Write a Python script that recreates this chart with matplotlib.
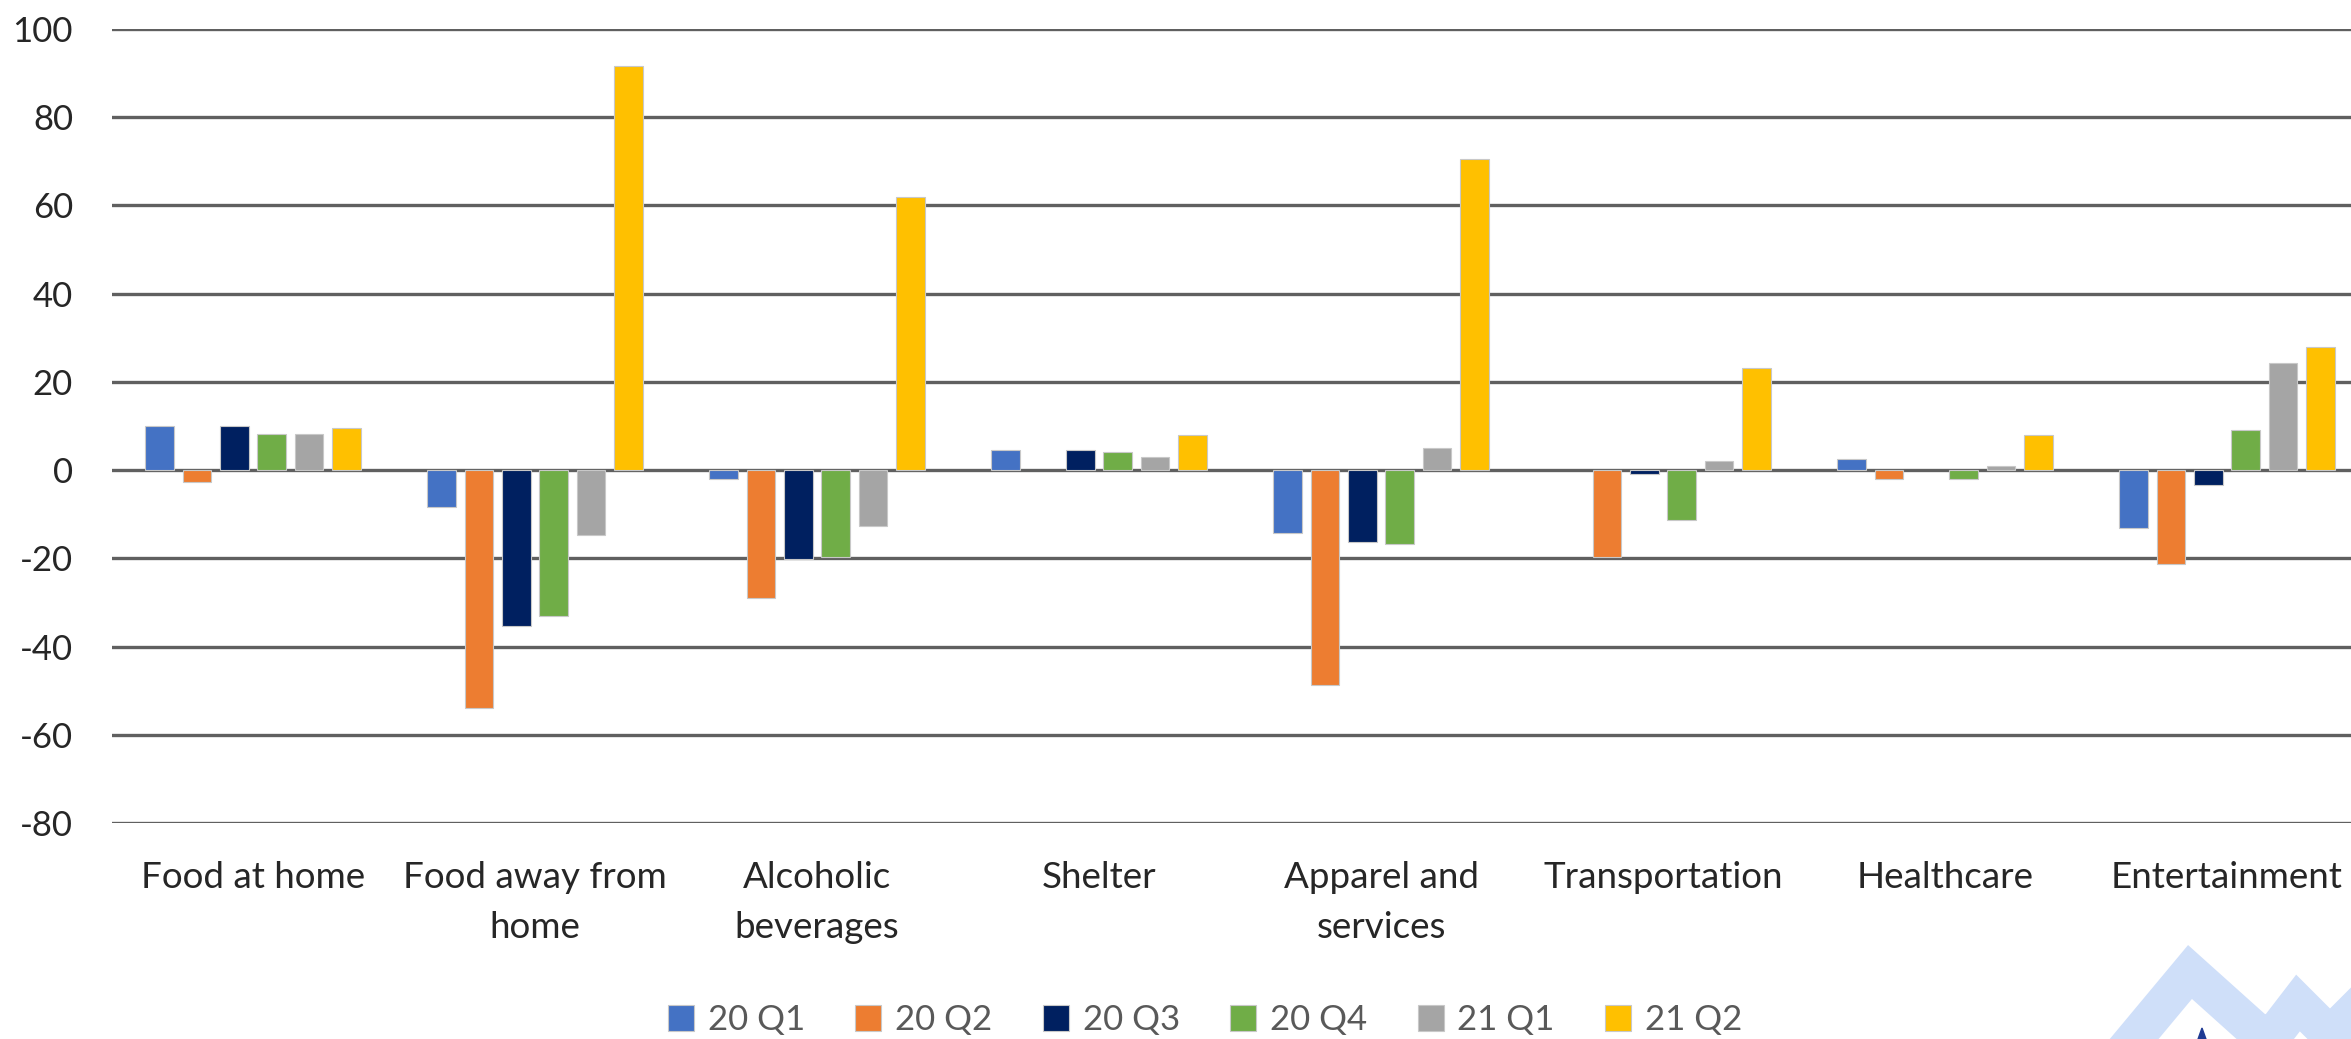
import numpy as np
import matplotlib
matplotlib.use("Agg")
import matplotlib.pyplot as plt
from matplotlib.lines import Line2D
from matplotlib.patches import Polygon

plt.rcParams['font.family'] = ['Lato', 'DejaVu Sans']
plt.rcParams['axes.unicode_minus'] = False

categories = ['Food at home', 'Food away from\nhome', 'Alcoholic\nbeverages', 'Shelter',
              'Apparel and\nservices', 'Transportation', 'Healthcare', 'Entertainment']
series_names = ['20 Q1', '20 Q2', '20 Q3', '20 Q4', '21 Q1', '21 Q2']
q1_20 = [10.0, -8.3, -2.0, 4.5, -14.3, 0.0, 2.5, -13.2]
q2_20 = [-2.8, -54.0, -29.0, 0.0, -48.7, -19.8, -2.0, -21.2]
q3_20 = [10.0, -35.3, -20.2, 4.5, -16.2, -0.9, 0.0, -3.4]
q4_20 = [8.1, -33.0, -19.8, 4.1, -16.7, -11.2, -2.0, 9.1]
q1_21 = [8.1, -14.8, -12.7, 3.0, 4.9, 2.0, 1.0, 24.3]
q2_21 = [9.5, 91.5, 62.0, 7.9, 70.5, 23.1, 7.9, 27.8]
colors = ['#4472C4', '#ED7D31', '#002060', '#70AD47', '#A5A5A5', '#FFC000']

W, H = 2351, 1039
fig = plt.figure(figsize=(W / 100, H / 100), dpi=100)
ax = fig.add_axes([112 / W, 1 - 823 / H, (2368 - 112) / W, (823 - 29) / H])

x = np.arange(len(categories))
pitch = 0.1323
width = 0.101
all_series = [q1_20, q2_20, q3_20, q4_20, q1_21, q2_21]
handles = []
for i, vals in enumerate(all_series):
    offs = (i - 2.5) * pitch
    b = ax.bar(x + offs, vals, width, color=colors[i], edgecolor='#c8c8c8',
               linewidth=0.8, zorder=3, label=series_names[i])
    # empty values show no bar at all
    for p in b.patches:
        if p.get_height() == 0:
            p.set_visible(False)
    handles.append(b)

ax.set_xlim(-0.5, len(categories) - 0.5)
ax.set_ylim(-80, 100)
ax.set_yticks(np.arange(-80, 101, 20))
ax.set_xticks(x)
ax.set_xticklabels(categories)
ax.yaxis.grid(True, color='#606060', linewidth=2.4, zorder=0)
ax.set_axisbelow(True)
for s in ax.spines.values():
    s.set_visible(False)
ax.tick_params(axis='y', length=0, pad=28, labelsize=25, labelcolor='#262626')
ax.tick_params(axis='x', length=0, pad=27, labelsize=26.5, labelcolor='#262626')
for t in ax.get_xticklabels():
    t.set_linespacing(1.65)

leg = fig.legend(handles=handles, loc='center', bbox_to_anchor=(1205 / W, 1 - 1020 / H),
                 ncol=6, frameon=False, fontsize=25, handlelength=0.75, handleheight=0.75,
                 handletextpad=0.4, columnspacing=1.45, labelcolor='#595959')

# light logo in the bottom right corner
logo = Line2D(np.array([2100, 2190, 2268, 2298, 2330, 2380]) / W,
              1 - np.array([1080, 972, 1042, 1003, 1035, 985]) / H,
              transform=fig.transFigure, color='#cfdff9', linewidth=27,
              solid_joinstyle='miter', zorder=0)
fig.add_artist(logo)
fig.add_artist(Polygon([[2197 / W, 1 - 1042 / H], [2202 / W, 1 - 1028 / H], [2207 / W, 1 - 1042 / H]],
                       closed=True, transform=fig.transFigure, color='#1f3a93'))

fig.savefig('out.png', dpi=100)
